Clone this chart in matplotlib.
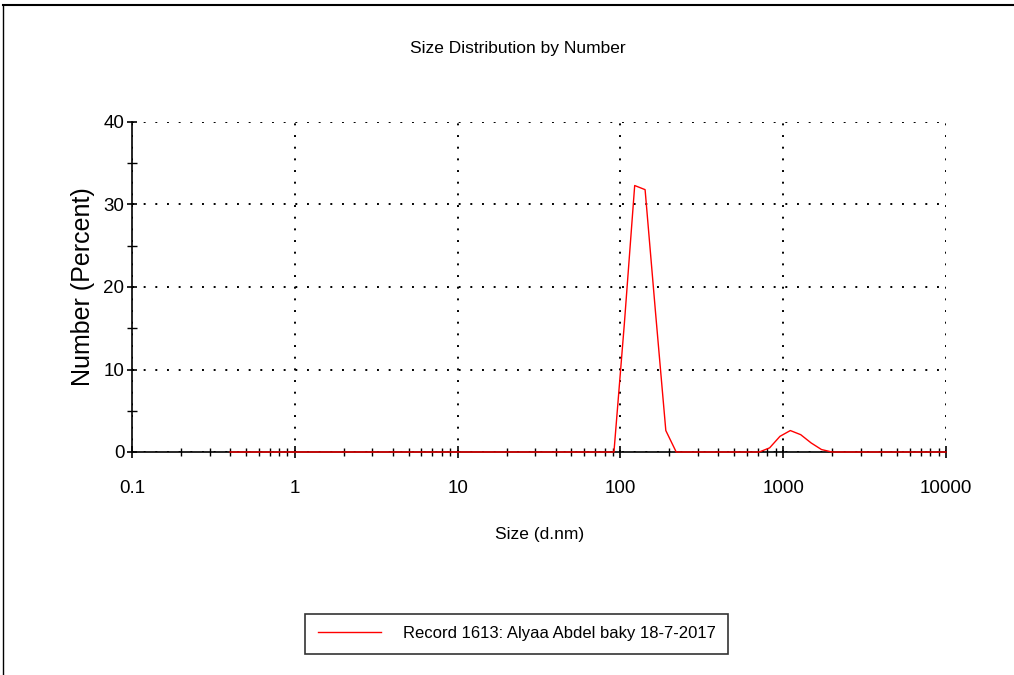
import matplotlib.pyplot as plt
from matplotlib.lines import Line2D

# size bins (d.nm) and number %
sizes = [0.4, 0.4632, 0.5365, 0.6213, 0.7195, 0.8332, 0.9649, 1.117, 1.294, 1.499,
         1.736, 2.010, 2.328, 2.696, 3.122, 3.615, 4.187, 4.849, 5.615, 6.503,
         7.531, 8.721, 10.10, 11.70, 13.54, 15.69, 18.17, 21.04, 24.36, 28.21,
         32.67, 37.84, 43.82, 50.75, 58.77, 68.06, 78.82, 91.28, 105.7, 122.4,
         141.8, 164.2, 190.1, 220.2, 255.0, 295.3, 342.0, 396.1, 458.7, 531.2,
         615.1, 712.4, 825.0, 955.4, 1106, 1281, 1484, 1718, 1990, 2305,
         2669, 3091, 3580, 4145, 4801, 5560, 6439, 7456, 8635, 10000]
number = [0, 0, 0, 0, 0, 0, 0, 0, 0, 0,
          0, 0, 0, 0, 0, 0, 0, 0, 0, 0,
          0, 0, 0, 0, 0, 0, 0, 0, 0, 0,
          0, 0, 0, 0, 0, 0, 0, 0, 15.5, 32.3,
          31.8, 17.0, 2.6, 0, 0, 0, 0, 0, 0, 0,
          0, 0, 0.5, 1.9, 2.6, 2.1, 1.1, 0.3, 0, 0,
          0, 0, 0, 0, 0, 0, 0, 0, 0, 0]

xticks = [0.1, 1, 10, 100, 1000, 10000]
xticklabels = ['0.1', '1', '10', '100', '1000', '10000']
yticks = [0, 10, 20, 30, 40]
record = 'Record 1613: Alyaa Abdel baky 18-7-2017'

plt.rcParams['font.family'] = ['Liberation Sans', 'DejaVu Sans']

fig = plt.figure(figsize=(10.14, 6.75), dpi=100)
ax = fig.add_axes([132/1014, 1-452/675, (946-132)/1014, (452-122)/675])

ax.plot(sizes, number, color='#ff0000', lw=1.0, label=record, zorder=5, clip_on=False)

ax.set_xscale('log')
ax.set_xlim(0.1, 10000)
ax.set_ylim(0, 40)
ax.set_xticks(xticks)
ax.set_xticklabels(xticklabels)
ax.set_yticks(yticks)
ax.set_yticks([5, 15, 25, 35], minor=True)

ax.grid(True, which='major', color='black', linestyle=(0, (1, 5)), lw=1.4)
ax.spines['top'].set_visible(False)
ax.spines['right'].set_visible(False)
ax.spines['left'].set_linewidth(1.2)
ax.spines['bottom'].set_linewidth(1.2)

ax.tick_params(axis='x', which='major', direction='inout', length=8, width=1.2, pad=16, labelsize=13.5)
ax.tick_params(axis='x', which='minor', direction='inout', length=6, width=1.0)
ax.tick_params(axis='y', which='major', direction='inout', length=7, width=1.2, pad=2, labelsize=13.5)
ax.tick_params(axis='y', which='minor', direction='inout', length=7, width=1.0)

fig.text(518/1014, 1-49/675, 'Size Distribution by Number', ha='center', va='center', fontsize=12.5)
fig.text(540/1014, 1-535/675, 'Size (d.nm)', ha='center', va='center', fontsize=12.5)
fig.text(83/1014, 1-287/675, 'Number (Percent)', ha='center', va='center', rotation=90,
         fontsize=18)

leg = ax.legend(loc='center', bbox_to_anchor=(516.5/1014, 1-633.5/675), bbox_transform=fig.transFigure,
                fancybox=False, edgecolor='#333333', fontsize=12, handlelength=3.8,
                handletextpad=1.3, borderpad=0.75, borderaxespad=0, framealpha=1)
leg.get_frame().set_linewidth(1.2)

# outer frame (top and left edges)
fig.add_artist(Line2D([3/1014, 1], [1-5/675, 1-5/675], color='black', lw=1.5, transform=fig.transFigure))
fig.add_artist(Line2D([3/1014, 3/1014], [0, 1-5/675], color='black', lw=1.0, transform=fig.transFigure))

plt.savefig('out.png', dpi=100)
